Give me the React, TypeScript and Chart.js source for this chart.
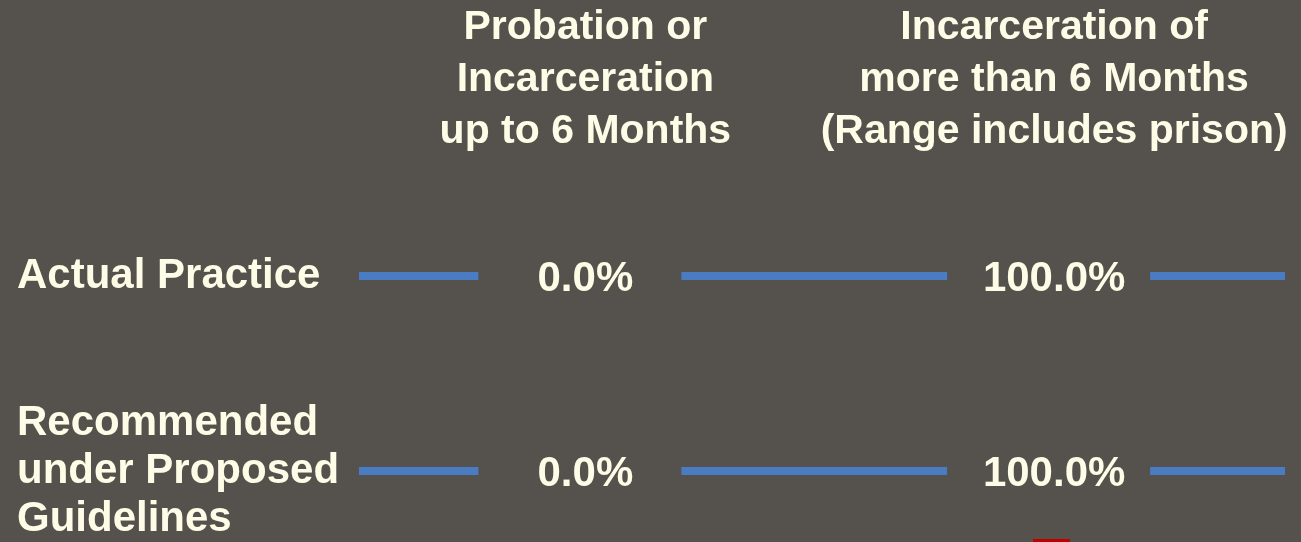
import React, { useEffect, useRef } from "react";
import { Chart, registerables } from "chart.js";

Chart.register(...registerables);

// ---- data ----
const columnHeaders: string[][] = [
  ["Probation or", "Incarceration", "up to 6 Months"],
  ["Incarceration of", "more than 6 Months", "(Range includes prison)"],
];
const rowLabels: string[][] = [
  ["Actual Practice"],
  ["Recommended", "under Proposed", "Guidelines"],
];
const actualPractice: number[] = [0.0, 100.0];
const recommendedProposed: number[] = [0.0, 100.0];
const seriesValues: number[][] = [actualPractice, recommendedProposed];

const colKeys = columnHeaders.map((l) => l.join(" "));
const rowKeys = rowLabels.map((l) => l.join(" "));

// ---- style ----
const BG = "#55514C";
const TEXT = "#FEFCE6";
const LINE = "#4A7CC4";
const FONT = "'Liberation Sans', Arial, sans-serif";

const rowLinePlugin = {
  id: "rowLines",
  afterDatasetsDraw(chart: any) {
    const { ctx, chartArea } = chart;
    ctx.save();
    chart.data.datasets.forEach((ds: any, di: number) => {
      const meta = chart.getDatasetMeta(di);
      const pts = meta.data;
      if (!pts.length) return;
      const y = pts[0].y;
      const gaps = pts
        .map((p: any) => [p.x - 107, p.x + 96])
        .sort((a: number[], b: number[]) => a[0] - b[0]);
      let start = chartArea.left + 8;
      const end = chartArea.right - 3.5;
      ctx.fillStyle = LINE;
      gaps.forEach(([g0, g1]: number[]) => {
        if (g0 > start) ctx.fillRect(start, y - 4, g0 - start, 8);
        start = Math.max(start, g1);
      });
      if (end > start) ctx.fillRect(start, y - 4, end - start, 8);
      ctx.fillStyle = TEXT;
      ctx.font = `bold 42px ${FONT}`;
      ctx.textAlign = "center";
      ctx.textBaseline = "alphabetic";
      pts.forEach((p: any, i: number) => {
        const v = ds.data[i].v as number;
        ctx.fillText(v.toFixed(1) + "%", p.x, p.y + 15);
      });
    });
    ctx.restore();
  },
};

export default function App() {
  const canvasRef = useRef<HTMLCanvasElement | null>(null);

  useEffect(() => {
    document.body.style.background = BG;
    const canvas = canvasRef.current;
    if (!canvas) return;
    const chart = new Chart(canvas, {
      type: "line",
      data: {
        datasets: seriesValues.map((vals, r) => ({
          label: rowKeys[r],
          data: vals.map((v, c) => ({ x: colKeys[c], y: rowKeys[r], v })) as any,
          showLine: false,
          pointRadius: 0,
          pointHoverRadius: 0,
          borderColor: LINE,
          backgroundColor: LINE,
        })),
      },
      options: {
        animation: false,
        responsive: true,
        maintainAspectRatio: false,
        events: [],
        layout: { padding: { left: 17, right: 12.5, top: 0, bottom: 71 } },
        plugins: {
          legend: { display: false },
          tooltip: { enabled: false },
        },
        scales: {
          x: {
            type: "category",
            position: "top",
            labels: colKeys,
            offset: true,
            grid: { display: false, drawTicks: false },
            border: { display: false },
            ticks: {
              autoSkip: false,
              maxRotation: 0,
              minRotation: 0,
              padding: 118,
              color: TEXT,
              font: { family: FONT, size: 41, weight: "bold", lineHeight: 52 / 41 },
              callback: (_v: any, i: number) => columnHeaders[i],
            },
            afterFit: (s: any) => {
              s.height = 276;
              s.paddingLeft = 0;
              s.paddingRight = 0;
            },
          },
          y: {
            type: "category",
            position: "left",
            labels: rowKeys,
            offset: false,
            grid: { display: false, drawTicks: false },
            border: { display: false },
            ticks: {
              autoSkip: false,
              padding: 0,
              crossAlign: "far",
              color: TEXT,
              font: { family: FONT, size: 42, weight: "bold", lineHeight: 48 / 42 },
              callback: (_v: any, i: number) => rowLabels[i],
            },
            afterFit: (s: any) => {
              s.width = 334;
              s.paddingTop = 0;
              s.paddingBottom = 0;
            },
          },
        },
      } as any,
      plugins: [rowLinePlugin],
    });
    return () => chart.destroy();
  }, []);

  return (
    <div
      style={{
        position: "fixed",
        left: 0,
        top: 0,
        width: 1301,
        height: 542,
        background: BG,
        overflow: "hidden",
      }}
    >
      <canvas ref={canvasRef} />
      <div
        style={{
          position: "absolute",
          left: 1033,
          top: 539,
          width: 37,
          height: 10,
          background: "#C00000",
        }}
      />
    </div>
  );
}
